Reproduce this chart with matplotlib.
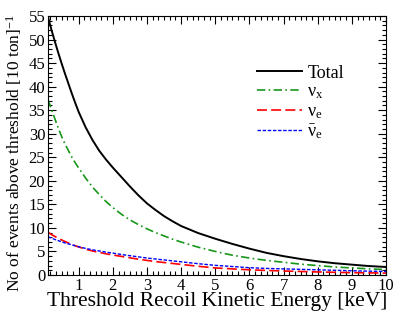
import matplotlib
matplotlib.use('Agg')
import matplotlib.pyplot as plt
import matplotlib.ticker as ticker

# threshold recoil kinetic energy [keV]
energy = [0.1, 0.2, 0.3, 0.4, 0.5, 0.6, 0.7, 0.8, 0.9, 1.0, 1.2, 1.4, 1.6,
          1.8, 2.0, 2.25, 2.5, 2.75, 3.0, 3.25, 3.5, 3.75, 4.0, 4.5, 5.0,
          5.5, 6.0, 6.5, 7.0, 7.5, 8.0, 8.5, 9.0, 9.5, 10.0]

# events above threshold
total = [54.8, 52.1, 49.6, 47.2, 44.9, 42.7, 40.6, 38.5, 36.5, 34.6, 31.4,
         28.7, 26.4, 24.5, 22.8, 20.8, 18.8, 16.9, 15.2, 13.8, 12.5, 11.4,
         10.4, 8.9, 7.7, 6.6, 5.6, 4.7, 4.0, 3.4, 2.9, 2.5, 2.2, 1.9, 1.7]
nu_x = [37.3, 35.2, 33.2, 31.2, 29.4, 27.8, 26.4, 25.0, 23.8, 22.7, 20.6,
        18.7, 17.1, 15.6, 14.3, 12.9, 11.7, 10.7, 9.8, 9.0, 8.3, 7.6, 7.0,
        5.9, 5.0, 4.2, 3.6, 3.1, 2.7, 2.3, 2.0, 1.7, 1.5, 1.3, 1.15]
nu_e = [9.1, 8.6, 8.2, 7.8, 7.45, 7.1, 6.8, 6.5, 6.2, 5.95, 5.5, 5.1, 4.8,
        4.5, 4.25, 3.95, 3.65, 3.35, 3.1, 2.85, 2.65, 2.45, 2.25, 1.85, 1.5,
        1.3, 1.1, 0.97, 0.85, 0.75, 0.65, 0.57, 0.5, 0.45, 0.4]
nu_e_bar = [8.1, 7.85, 7.55, 7.3, 7.05, 6.8, 6.6, 6.4, 6.2, 6.0, 5.65, 5.35,
            5.1, 4.85, 4.65, 4.35, 4.1, 3.85, 3.6, 3.4, 3.2, 3.0, 2.8, 2.4,
            2.05, 1.8, 1.55, 1.4, 1.3, 1.2, 1.1, 1.0, 0.9, 0.82, 0.75]

plt.rcParams['font.family'] = ['Liberation Serif', 'DejaVu Serif']
plt.rcParams['mathtext.fontset'] = 'custom'
plt.rcParams['mathtext.rm'] = 'Liberation Serif'
plt.rcParams['mathtext.it'] = 'Liberation Serif'
plt.rcParams['mathtext.default'] = 'regular'

fig = plt.figure(figsize=(4.09, 3.16), dpi=100)
ax = fig.add_axes([48 / 409, 41 / 316, 338 / 409, 259 / 316])

ax.plot(energy, total, color='black', lw=1.4, label='Total')
ax.plot(energy, nu_x, color='#18961a', lw=1.2,
        linestyle=(0, (5, 2, 1, 2)), label=r'$\nu_{x}$')
ax.plot(energy, nu_e, color='#ff0000', lw=1.2,
        linestyle=(0, (6, 2.5)), label=r'$\nu_{e}$')
ax.plot(energy, nu_e_bar, color='#0000ff', lw=1.0,
        linestyle=(0, (2.5, 1.2)), label=r'$\bar{\nu}_{e}$')

ax.set_xlim(0.1, 10)
ax.set_ylim(0, 55)

ax.xaxis.set_major_locator(ticker.MultipleLocator(1))
ax.xaxis.set_minor_locator(ticker.MultipleLocator(1 / 6))
ax.yaxis.set_major_locator(ticker.MultipleLocator(5))
ax.yaxis.set_minor_locator(ticker.MultipleLocator(1))

ax.tick_params(which='both', direction='in', top=True, right=True,
               labelsize=12, width=0.8)
ax.tick_params(which='major', length=6, pad=2)
ax.tick_params(which='minor', length=3)
for s in ax.spines.values():
    s.set_linewidth(0.8)

ax.set_xlabel('Threshold Recoil Kinetic Energy [keV]', fontsize=15.5,
              labelpad=-1)
ax.set_ylabel('No of events above threshold [10 ton]$^{-1}$', fontsize=12.5)
ax.yaxis.set_label_coords(-0.072, 0.47)

ax.legend(loc='upper left', bbox_to_anchor=(0.618, 0.812), frameon=False,
          fontsize=13, handlelength=2.5, handletextpad=0.3,
          borderpad=0, borderaxespad=0, labelspacing=0.1)

fig.savefig('out.png', dpi=100)
